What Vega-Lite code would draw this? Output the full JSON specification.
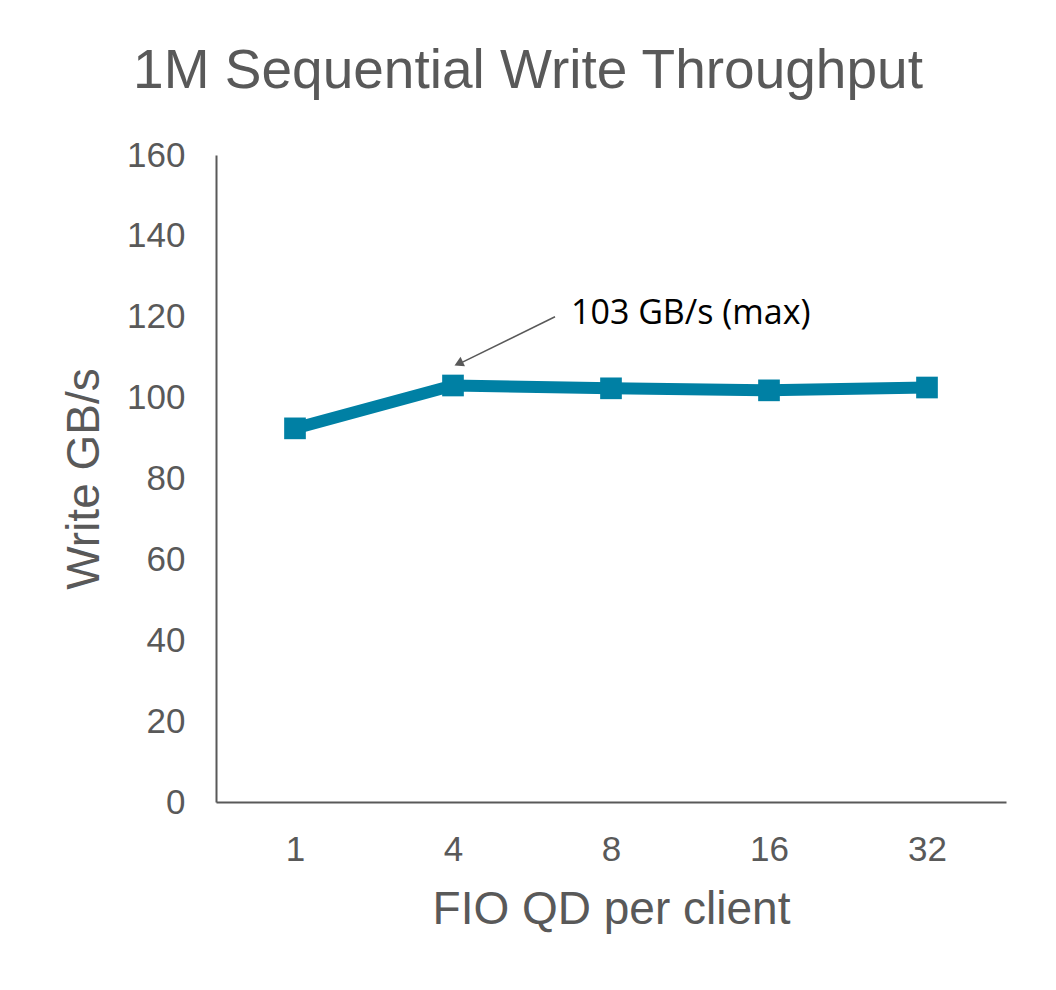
{
  "$schema": "https://vega.github.io/schema/vega-lite/v6.json",
  "autosize": "none",
  "padding": {"left": 216, "top": 155, "right": 50, "bottom": 188},
  "width": 790,
  "height": 647,
  "background": "white",
  "title": {
    "text": "1M Sequential Write Throughput",
    "font": "Liberation Sans",
    "fontSize": 55,
    "fontWeight": "normal",
    "color": "#595959",
    "anchor": "middle",
    "dx": -83,
    "dy": 67,
    "offset": 62,
    "baseline": "alphabetic"
  },
  "config": {
    "view": {"stroke": null},
    "axis": {
      "labelFont": "Liberation Sans",
      "titleFont": "Liberation Sans",
      "labelColor": "#595959",
      "titleColor": "#595959",
      "domainColor": "#595959",
      "domainWidth": 2,
      "grid": false,
      "ticks": false,
      "titleFontWeight": "normal"
    }
  },
  "data": {
    "values": [
      {"qd": "1", "gbps": 92.4},
      {"qd": "4", "gbps": 103.0},
      {"qd": "8", "gbps": 102.3},
      {"qd": "16", "gbps": 101.8},
      {"qd": "32", "gbps": 102.5}
    ]
  },
  "layer": [
    {
      "mark": {"type": "line", "color": "#0080A4", "strokeWidth": 12},
      "encoding": {
        "x": {
          "field": "qd", "type": "ordinal", "sort": null,
          "scale": {"type": "point", "padding": 0.5},
          "axis": {"title": "FIO QD per client", "labelAngle": 0, "labelFontSize": 35, "labelPadding": 30, "titleFontSize": 46, "titlePadding": 20}
        },
        "y": {
          "field": "gbps", "type": "quantitative",
          "scale": {"domain": [0, 160]},
          "axis": {"title": "Write GB/s", "values": [0, 20, 40, 60, 80, 100, 120, 140, 160], "labelFontSize": 35, "labelPadding": 31, "titleFontSize": 46, "titlePadding": 18}
        }
      }
    },
    {
      "mark": {"type": "square", "color": "#0080A4", "size": 470, "opacity": 1, "filled": true},
      "encoding": {
        "x": {"field": "qd", "type": "ordinal", "sort": null},
        "y": {"field": "gbps", "type": "quantitative"}
      }
    },
    {
      "data": {"values": [{"qd": "4", "y1": 108.6, "y2": 120.0, "label": "103 GB/s (max)"}]},
      "layer": [
        {
          "mark": {"type": "rule", "color": "#595959", "strokeWidth": 1.5, "xOffset": 8, "x2Offset": 102},
          "encoding": {
            "x": {"field": "qd", "type": "ordinal", "sort": null},
            "x2": {"field": "qd"},
            "y": {"field": "y1", "type": "quantitative"},
            "y2": {"field": "y2"}
          }
        },
        {
          "mark": {"type": "point", "shape": "triangle", "filled": true, "color": "#595959", "opacity": 1, "size": 110, "angle": 245, "xOffset": 7},
          "encoding": {
            "x": {"field": "qd", "type": "ordinal", "sort": null},
            "y": {"field": "y1", "type": "quantitative"}
          }
        },
        {
          "mark": {"type": "text", "align": "left", "baseline": "middle", "font": "Open Sans", "fontSize": 34, "color": "#000000", "xOffset": 118},
          "encoding": {
            "x": {"field": "qd", "type": "ordinal", "sort": null},
            "y": {"datum": 120.8, "type": "quantitative"},
            "text": {"field": "label"}
          }
        }
      ]
    }
  ]
}
